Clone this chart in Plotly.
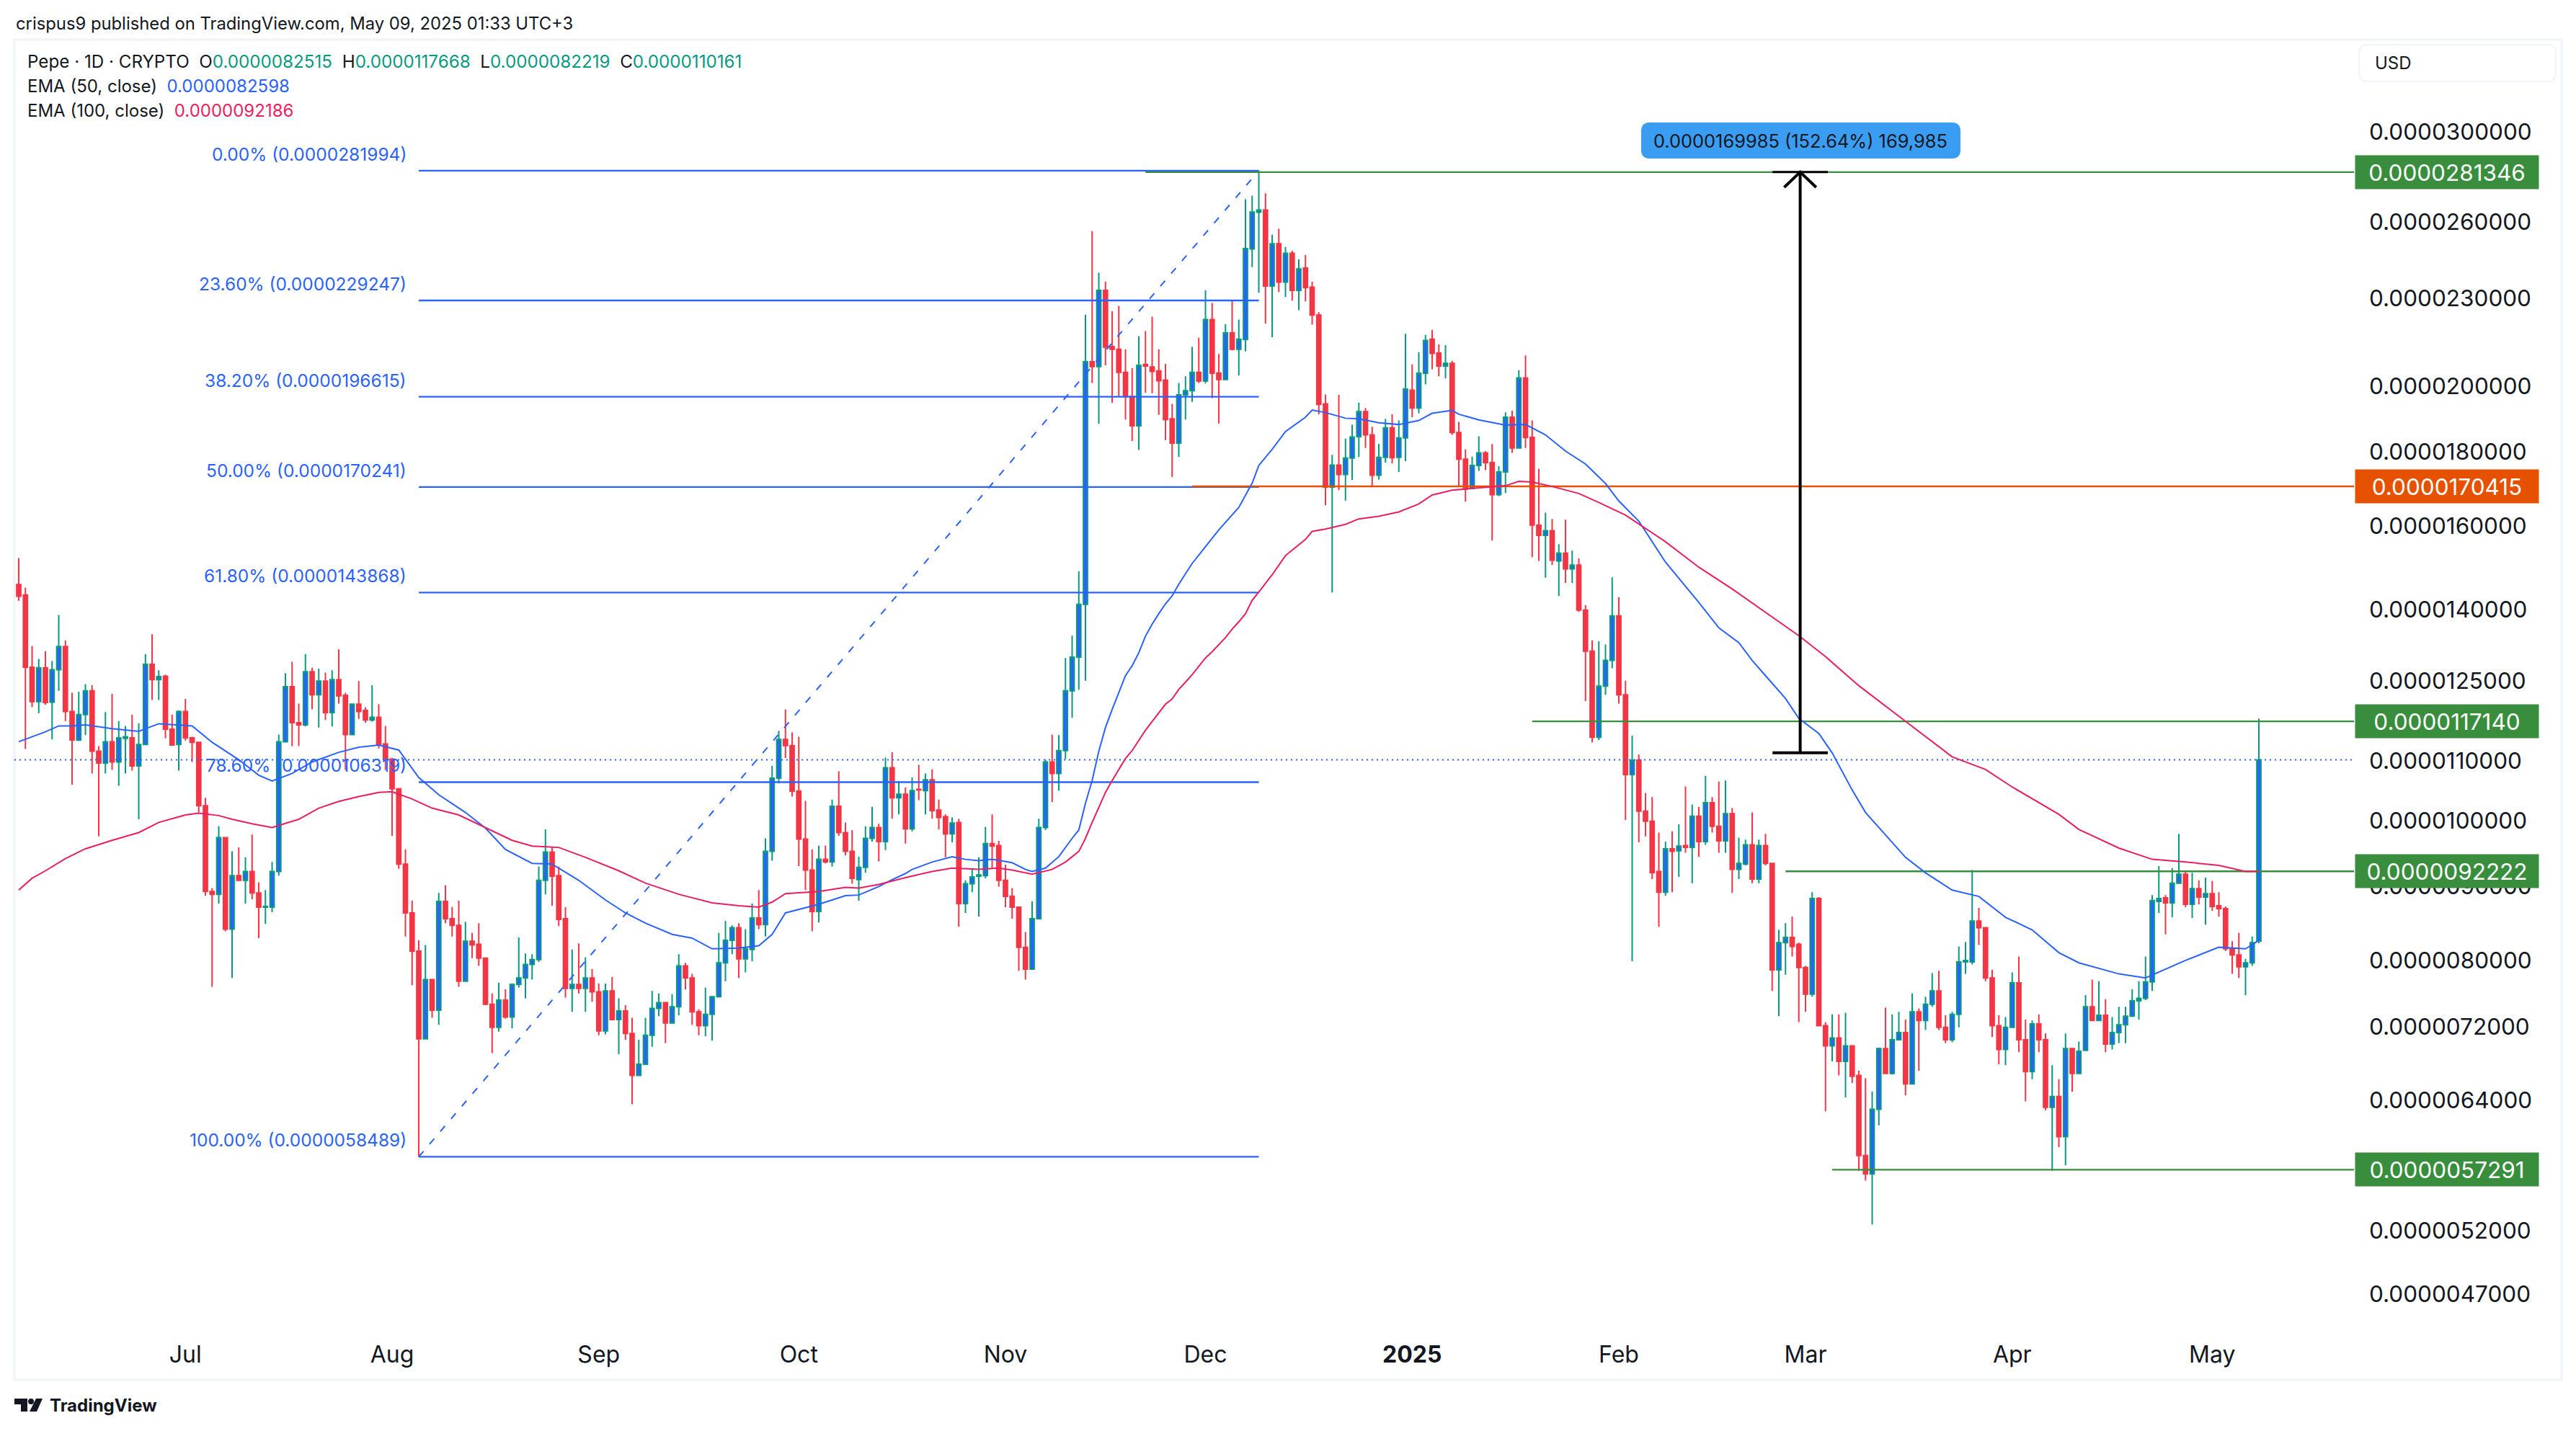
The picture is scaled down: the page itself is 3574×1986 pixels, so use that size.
import math
import pandas as pd
import plotly.graph_objects as go

UNIT = 1e-7
FIRST_DAY = "2024-06-06"

open_ = [
145.7,143.3,127.7,120.9,127.6,120.8,127.2,132.0,119.0,113.7,
118.4,123.0,111.7,109.6,113.4,109.8,114.0,114.1,109.1,112.9,
128.3,125.2,125.9,115.7,112.9,119.0,114.1,113.3,102.4,89.3,
88.9,97.3,84.1,91.6,90.9,92.2,89.1,87.1,87.1,92.2,
113.4,123.8,116.9,116.5,126.8,122.2,124.9,118.8,125.2,122.1,
114.7,120.4,119.2,117.4,117.9,113.0,110.3,105.2,93.3,86.3,
81.2,70.6,77.6,73.9,87.9,85.5,84.6,77.4,82.5,82.1,
80.3,74.6,71.9,75.1,73.1,77.0,77.8,79.5,80.1,90.9,
95.1,91.6,85.5,76.5,77.0,76.5,77.8,76.1,71.5,76.2,
72.8,73.8,71.2,66.6,67.8,71.0,74.1,74.8,72.4,74.3,
79.3,77.8,73.7,72.1,73.4,75.5,79.7,82.6,84.3,80.2,
81.4,85.6,84.7,95.2,107.0,113.8,112.7,104.8,97.1,92.4,
86.5,94.0,93.6,102.3,98.1,95.2,91.0,92.8,97.2,98.9,
96.7,108.8,103.7,104.3,98.7,105.1,104.9,106.7,101.7,100.6,
97.9,99.7,87.6,90.4,91.5,91.6,96.4,96.1,90.9,88.6,
87.1,81.7,78.9,85.5,98.9,109.8,107.8,111.8,123.0,129.8,
141.2,207.9,206.3,233.0,213.0,212.1,204.4,196.7,187.7,207.0,
206.2,204.9,201.9,189.8,182.6,197.2,198.5,204.4,201.6,222.4,
204.2,202.1,217.7,212.1,215.4,248.9,263.9,264.8,234.6,251.0,
236.1,247.2,233.0,241.4,234.2,224.0,194.4,170.2,176.3,173.7,
178.3,184.5,192.0,185.0,173.5,178.5,187.1,178.5,184.1,198.7,
193.1,204.1,215.5,210.8,206.5,207.4,185.7,178.0,169.9,176.2,
179.8,177.0,168.2,174.4,190.3,181.2,202.6,184.3,160.2,157.6,
158.8,151.3,153.2,149.4,150.3,139.9,131.0,114.2,123.9,129.1,
138.6,122.2,107.6,110.1,101.5,99.9,92.2,89.2,95.6,95.3,
96.1,95.8,100.7,96.7,102.9,99.1,96.8,101.1,92.5,93.3,
96.2,91.1,96.1,93.4,78.8,82.3,83.0,82.1,79.1,75.8,
88.3,72.1,69.8,70.7,68.1,69.8,66.6,58.6,56.9,63.1,
69.5,66.8,70.5,71.3,65.7,73.7,72.7,74.6,76.2,71.9,
70.5,73.4,79.8,79.8,85.2,84.3,77.8,72.1,69.4,71.9,
77.2,70.5,67.0,72.3,70.5,63.3,64.4,60.4,69.5,66.8,
69.3,74.3,72.7,73.3,70.0,71.3,72.2,73.2,75.0,75.3,
77.3,87.9,88.4,87.7,90.5,91.8,87.5,89.7,88.5,89.0,
87.3,86.9,81.5,80.7,79.2,79.7,82.515]

high = [
152.0,145.0,132.1,129.4,131.0,129.0,138.8,133.3,122.6,122.8,
124.3,124.1,112.6,118.9,122.4,117.2,116.3,118.4,116.8,130.4,
134.6,127.1,126.2,118.4,119.2,121.4,114.3,113.3,103.7,89.8,
99.1,97.4,95.2,95.8,94.3,97.8,90.6,89.5,93.6,114.7,
126.5,128.8,120.5,130.4,127.6,127.4,126.6,127.1,131.4,122.6,
120.5,124.9,119.8,124.1,120.4,116.3,110.5,105.3,95.5,88.0,
82.6,82.0,77.6,89.1,90.2,87.1,88.0,85.1,83.6,84.9,
80.3,75.9,77.2,76.4,77.1,83.0,80.9,80.8,92.9,98.6,
95.8,92.9,87.1,81.4,82.2,80.4,78.9,77.1,77.1,77.9,
75.3,74.5,73.0,70.5,73.0,76.2,75.9,74.8,75.8,80.8,
79.7,78.3,74.0,76.6,75.6,83.6,85.2,84.6,84.9,84.1,
87.6,89.5,97.2,109.1,115.4,119.4,115.1,114.3,103.2,95.5,
96.1,96.1,103.4,108.2,99.7,98.5,94.4,99.1,102.2,99.5,
110.6,111.5,106.5,105.4,107.1,109.3,107.8,108.5,103.4,101.0,
100.5,100.3,90.9,92.7,94.3,99.0,101.0,96.8,93.2,89.8,
87.2,83.7,87.9,100.3,110.2,114.7,114.6,129.6,134.3,148.8,
224.1,256.1,239.6,236.2,225.3,227.3,212.0,205.8,216.6,218.3,
223.4,212.1,207.2,194.4,201.0,203.1,212.9,216.0,233.0,228.3,
210.5,220.7,229.1,222.4,269.4,271.0,282.0,272.0,254.6,257.0,
249.7,248.2,244.8,246.5,236.2,225.0,197.3,179.2,197.2,183.9,
188.0,194.7,193.1,187.4,182.4,189.8,191.2,189.3,217.4,207.0,
211.1,217.0,218.7,213.7,213.5,208.2,188.9,180.8,178.7,184.6,
180.3,182.3,176.0,191.8,192.3,205.1,210.0,189.3,175.3,163.4,
161.8,155.4,161.6,153.8,151.9,141.0,133.3,133.1,132.4,147.4,
142.8,125.0,114.5,111.1,104.5,103.8,98.1,96.7,98.3,99.4,
105.6,102.6,102.2,107.4,103.8,106.4,106.6,102.0,97.3,97.0,
101.3,97.0,97.9,93.5,84.0,84.9,85.8,82.3,79.3,89.2,
88.5,72.5,73.4,73.4,73.6,69.8,67.1,66.3,64.9,69.6,
74.2,73.4,73.7,72.8,75.9,74.1,75.5,78.4,78.7,73.3,
73.7,81.8,82.4,92.4,87.0,84.3,78.8,73.3,73.1,78.5,
80.5,72.8,72.7,73.4,71.2,67.7,66.2,71.2,69.5,70.3,
75.7,77.6,77.4,75.2,73.1,74.3,74.3,76.4,77.4,80.5,
88.8,93.0,88.8,92.7,97.9,92.2,92.0,90.9,91.3,90.8,
89.2,87.2,82.5,83.6,80.2,83.1,117.668]

low = [
142.0,112.1,119.9,118.7,120.3,113.8,123.0,117.2,105.9,113.5,
114.6,107.8,97.5,107.8,108.4,105.7,107.8,108.3,100.2,112.9,
121.2,121.2,114.0,112.7,108.3,113.6,109.8,101.3,88.7,76.7,
87.6,83.8,77.8,90.9,87.6,88.2,82.9,84.8,86.4,91.6,
113.3,112.6,112.6,116.2,119.4,116.0,117.4,116.2,120.5,108.4,
114.7,117.6,116.9,117.1,112.2,108.4,97.6,92.6,83.1,76.9,
58.489,70.6,73.0,72.2,84.9,83.1,76.7,77.3,80.3,79.3,
74.5,69.0,71.4,72.9,71.8,76.6,75.3,77.6,79.8,88.9,
87.3,84.5,75.4,73.7,75.9,73.7,74.9,71.0,71.1,72.7,
68.9,70.5,63.6,66.6,67.7,69.7,73.2,70.1,72.4,73.3,
76.4,72.2,71.0,70.9,70.4,75.4,77.4,80.8,77.8,78.5,
79.9,84.1,83.1,93.8,106.1,110.5,103.9,93.0,89.5,83.8,
85.0,93.4,92.9,97.6,94.6,90.4,88.0,92.0,96.7,93.7,
95.4,100.3,101.0,96.4,98.3,103.3,101.0,100.3,98.6,94.3,
96.6,84.4,86.3,89.2,85.8,91.2,92.6,90.0,87.1,85.5,
78.7,77.6,78.9,85.5,98.5,103.0,104.9,110.3,117.8,123.2,
125.0,201.0,188.3,206.7,194.7,196.7,189.6,183.2,180.6,197.9,
197.7,191.0,183.5,173.0,178.6,189.6,195.0,201.0,200.8,196.2,
188.4,202.1,211.7,203.4,211.4,241.8,232.1,221.0,216.2,232.4,
230.6,229.2,225.7,228.9,220.6,191.2,165.4,143.9,169.4,166.6,
172.2,178.6,181.2,170.5,172.3,177.0,176.8,174.4,177.4,190.3,
191.5,200.5,205.4,203.1,202.5,185.0,170.5,166.3,169.7,174.7,
174.9,156.3,167.8,168.6,179.8,181.2,181.2,152.2,151.3,147.3,
150.3,143.1,146.1,146.1,139.5,121.0,113.3,113.7,122.2,127.5,
120.5,100.1,79.9,96.6,97.5,91.1,84.4,88.7,89.2,91.4,
95.0,90.5,94.4,96.2,98.1,95.0,95.0,89.1,91.1,93.1,
90.5,90.5,93.1,76.2,73.2,78.2,80.5,72.5,73.7,75.5,
72.1,62.9,68.1,66.6,64.3,65.8,57.2,56.3,52.5,61.5,
66.8,66.7,70.5,64.5,65.7,67.1,71.6,74.3,71.6,70.1,
70.2,71.9,78.3,79.5,82.0,77.4,70.8,67.8,67.7,71.9,
69.1,63.9,66.2,69.1,63.0,57.2,59.4,57.7,64.9,66.8,
69.3,72.6,72.6,69.1,69.4,70.1,70.1,73.1,72.8,75.1,
76.2,86.3,83.4,85.7,90.5,87.1,85.6,87.5,84.7,86.6,
85.8,81.2,78.3,77.8,75.7,79.3,82.219]

close = [
143.0,127.7,120.9,127.6,120.7,127.2,132.0,119.0,113.7,118.4,
123.0,111.7,109.6,113.4,109.8,114.1,114.3,109.1,112.9,128.3,
125.2,125.8,115.7,112.8,119.0,114.1,113.3,102.4,89.3,88.9,
97.3,84.1,91.6,90.9,92.2,89.1,87.1,87.2,92.2,113.4,
123.8,116.9,116.5,126.8,122.2,124.9,118.8,125.2,122.0,114.7,
120.4,119.0,117.4,117.9,112.9,110.3,105.2,93.3,86.3,81.2,
70.6,77.6,73.9,87.9,85.5,84.6,77.4,82.5,82.0,80.3,
74.6,71.9,75.1,73.1,77.0,77.8,79.5,80.1,90.9,95.1,
91.5,85.4,76.5,77.0,76.5,77.8,76.1,71.5,76.2,72.8,
73.8,71.2,66.6,67.8,71.0,74.1,74.8,72.4,74.3,79.3,
77.8,73.7,72.1,73.4,75.5,79.7,82.6,84.3,80.2,81.5,
85.6,84.7,95.2,107.0,113.8,112.7,104.8,97.1,92.4,86.5,
94.0,93.6,102.3,98.1,95.2,91.2,92.8,97.2,98.9,96.7,
108.8,103.7,104.3,98.7,104.9,105.0,106.7,101.6,100.5,97.9,
99.6,87.6,90.4,91.4,91.7,96.4,96.0,90.9,88.6,87.1,
81.7,78.9,85.5,98.9,109.8,107.8,111.8,123.0,129.8,141.2,
207.9,206.3,233.0,212.8,212.1,204.4,196.7,187.7,206.7,206.5,
204.7,201.7,189.6,182.6,197.2,198.5,204.4,201.6,222.4,204.1,
202.1,217.7,212.1,215.5,249.0,264.0,264.8,234.6,251.0,236.1,
247.2,233.0,241.1,234.0,224.0,194.2,170.2,176.3,173.7,178.3,
184.4,192.0,185.0,173.5,178.5,187.1,178.4,184.1,199.0,193.1,
204.1,215.1,210.7,206.5,207.4,185.7,178.0,169.7,176.2,179.8,
177.0,168.2,174.4,190.3,181.2,202.6,184.2,160.2,157.6,158.8,
151.5,153.2,149.4,150.3,139.9,131.0,114.2,123.9,129.1,138.6,
122.2,107.6,110.1,101.5,99.9,92.0,89.2,95.6,95.2,96.0,
95.8,100.7,96.7,102.9,99.1,96.8,101.1,92.5,93.4,96.2,
91.1,96.1,93.4,78.8,82.3,83.0,81.8,79.1,75.8,88.3,
72.1,69.8,70.7,68.1,69.8,66.5,58.6,56.9,63.1,69.5,
66.8,70.5,71.3,65.7,73.7,72.7,74.6,76.2,71.9,70.5,
73.4,79.8,80.0,85.2,84.3,77.8,72.1,69.4,71.9,77.2,
70.5,67.0,72.3,70.5,63.3,64.4,60.4,69.5,66.8,69.2,
74.3,72.7,73.3,70.0,71.3,72.2,73.2,75.0,75.3,77.3,
88.0,88.3,87.7,90.5,91.8,87.5,89.7,88.5,89.0,87.2,
86.9,81.5,80.7,79.2,79.7,82.3,110.161]

ema50_day = [0,2,4,6,8,10,14,18,21,26,29,33,36,38,41,44,48,51,54,57,60,63,67,70,73,77,80,84,88,91,94,98,101,104,108,111,113,115,120,124,
126,129,131,133,134,137,140,142,144,146,149,151,152,154,156,158,159,160,161,162,163,164,165,166,167,168,169,170,171,172,173,
174,176,178,180,183,185,186,188,190,193,194,196,199,201,204,207,210,212,215,216,219,223,226,229,232,235,
238,240,243,247,252,255,258,260,262,265,267,270,272,275,277,280,283,286,290,294,298,302,306,309,315,319,325,330,334,336]
ema50 = [113.4,114.3,115.2,116.3,116.3,116.5,115.8,115.3,116.7,116.3,113.3,110.2,107.5,106.5,107.8,109.8,111.5,112.4,112.8,111.9,107.1,104.2,101.3,98.8,95.5,93.4,93.3,90.9,88.1,86.3,84.9,83.4,82.9,81.5,81.6,81.9,83.4,86.3,87.5,88.7,
88.8,90.0,91.0,91.9,92.5,93.6,94.4,94.0,93.8,94.0,93.5,92.5,92.2,92.7,94.4,97.2,98.5,102.8,106.6,111.7,116.0,119.4,122.7,126.0,128.0,130.7,134.2,136.8,139.1,141.3,143.1,
145.8,150.7,154.8,159.0,164.8,171.3,176.2,180.8,186.0,190.3,192.5,191.7,190.0,189.8,188.6,188.1,189.3,191.5,192.4,191.2,189.5,187.9,188.1,185.0,180.3,176.6,
171.2,166.5,161.2,151.0,141.6,136.0,132.8,129.1,126.0,121.5,117.7,114.9,111.4,105.0,101.3,97.8,94.3,92.0,89.5,88.6,85.7,84.0,81.0,79.7,78.3,77.8,80.0,81.7,81.5,82.598]

ema100_day = [0,2,4,7,10,14,18,21,25,27,30,32,35,38,42,45,48,51,54,56,59,62,66,70,74,77,81,85,90,94,99,104,108,111,113,115,120,124,
126,129,133,137,140,144,147,149,152,155,157,159,
160,161,162,163,164,165,166,167,168,169,170,171,172,173,174,175,176,177,178,179,180,181,182,183,184,185,186,
188,190,193,194,196,199,201,204,207,210,212,215,217,221,223,225,227,230,234,
237,241,247,252,257,262,267,271,276,282,290,295,299,306,309,315,320,325,330,334,336]
ema100 = [89.5,91.2,92.3,94.1,95.6,96.9,98.1,99.7,100.9,101.2,100.8,100.2,99.5,98.9,100.2,102.0,103.1,103.9,104.6,104.7,103.5,102.0,100.9,98.9,96.9,96.0,95.8,94.3,92.3,90.5,88.9,87.7,87.3,87.1,87.8,89.0,89.3,89.9,
89.8,90.3,91.3,92.2,92.7,92.5,92.7,92.4,91.8,92.5,93.6,95.2,
97.2,99.7,102.2,104.6,106.6,108.5,110.4,111.8,113.6,115.5,117.1,118.7,120.4,121.4,123.3,124.7,126.2,127.9,129.6,130.9,132.4,133.9,135.7,137.3,139.1,142.1,144.0,
148.0,152.6,156.6,158.6,159.2,160.4,161.8,162.5,163.6,165.7,168.1,169.4,169.7,170.2,170.6,171.8,171.6,170.4,168.5,
166.1,162.8,156.0,149.8,144.7,139.4,134.3,129.9,124.0,118.1,110.7,108.5,105.5,101.0,98.6,95.7,94.0,93.6,93.1,92.2,92.186]

fib_levels = [281.994,229.247,196.615,170.241,143.868,106.319,58.489]
fib_labels = ["0.00% (0.0000281994)","23.60% (0.0000229247)","38.20% (0.0000196615)","50.00% (0.0000170241)",
              "61.80% (0.0000143868)","78.60% (0.0000106319)","100.00% (0.0000058489)"]
fib_start_day, fib_end_day = 60, 186

level_prices = [281.346,170.415,117.140,92.222,57.291]
level_labels = ["0.0000281346","0.0000170415","0.0000117140","0.0000092222","0.0000057291"]
level_start_day = [169,176,227,265,272]
level_colors = ["#388e3c","#e65100","#388e3c","#388e3c","#388e3c"]

last_price = 110.161
arrow_day, arrow_half_bar, arrow_head_days = 267.2, 4.15, 2.4
arrow_low, arrow_high, arrow_head_price = 111.4, 281.346, 274.6

price_ticks = [300000,260000,230000,200000,180000,160000,140000,125000,110000,100000,90000,80000,72000,64000,52000,47000]
month_ticks = ["2024-07-01","2024-08-01","2024-09-01","2024-10-01","2024-11-01","2024-12-01","2025-01-01","2025-02-01","2025-03-01","2025-04-01","2025-05-01"]
month_labels = ["Jul","Aug","Sep","Oct","Nov","Dec","<b>2025</b>","Feb","Mar","Apr","May"]

# canvas / plot geometry
W, H = 3574, 1986
L, R, T, B = 20, 3266, 55, 1850
FONT = "Inter"
INK = "#131722"
BLUE = "#2962ff"
RED = "#f23645"
GREEN = "#089981"
PINK = "#e91e63"

def px(x): return (x - L) / (R - L)
def py(y): return 1 - (y - T) / (B - T)
def day(d): return pd.Timestamp(FIRST_DAY) + pd.Timedelta(days=d)
def P(v): return v * UNIT
def ys(vs): return [v * UNIT for v in vs]

dates = [day(i) for i in range(len(open_))]
fig = go.Figure()

def line(xs, yvals, color, width=2, dash="solid"):
    fig.add_trace(go.Scatter(x=xs, y=yvals, mode="lines", hoverinfo="skip", showlegend=False,
                             line=dict(color=color, width=width, dash=dash)))

for lv in fib_levels:
    line([day(fib_start_day), day(fib_end_day)], [P(lv), P(lv)], BLUE, 2.4)
line([day(fib_start_day), day(fib_end_day)], [P(fib_levels[-1]), P(fib_levels[0])], BLUE, 2, "10px,13px")

x_right = day(350.27)
x_left = day(-0.65)
for lv, s, c in zip(level_prices, level_start_day, level_colors):
    line([day(s), x_right], [P(lv), P(lv)], c, 2.4)
line([x_left, x_right], [P(last_price), P(last_price)], BLUE, 2, "2px,5px")

line([day(i) for i in ema50_day], ys(ema50), BLUE, 2)
line([day(i) for i in ema100_day], ys(ema100), PINK, 2)

fig.add_trace(go.Candlestick(
    x=dates, open=ys(open_), high=ys(high), low=ys(low), close=ys(close), whiskerwidth=0,
    increasing=dict(fillcolor=BLUE, line=dict(color=GREEN, width=2)),
    decreasing=dict(fillcolor=RED, line=dict(color=RED, width=2)),
    showlegend=False, hoverinfo="skip"))

# measurement arrow
line([day(arrow_day), day(arrow_day)], [P(arrow_low), P(arrow_high)], "#000000", 4)
line([day(arrow_day - arrow_half_bar), day(arrow_day + arrow_half_bar)], [P(arrow_low)] * 2, "#000000", 4)
line([day(arrow_day - arrow_half_bar), day(arrow_day + arrow_half_bar)], [P(arrow_high)] * 2, "#000000", 3)
line([day(arrow_day - arrow_head_days), day(arrow_day), day(arrow_day + arrow_head_days)],
     [P(arrow_head_price), P(arrow_high), P(arrow_head_price)], "#000000", 4)

ann = []
def text(x, y, s, size=24, color=INK, anchor="left", **kw):
    ann.append(dict(x=px(x), y=py(y), xref="paper", yref="paper", text=s, showarrow=False, xanchor=anchor,
                    yanchor="middle", font=dict(family=FONT, size=size, color=color), **kw))

text(20, 32, "crispus9 published on TradingView.com, May 09, 2025 01:33 UTC+3", 23.8)
g = lambda s: f'<span style="color:{GREEN}">{s}</span>'
text(36, 86, f"Pepe · 1D · CRYPTO  O{g('0.0000082515')}  H{g('0.0000117668')}  L{g('0.0000082219')}  C{g('0.0000110161')}", 24.2)
text(36, 119, f'EMA (50, close)  <span style="color:{BLUE}">0.0000082598</span>', 24)
text(36, 153, f'EMA (100, close)  <span style="color:{PINK}">0.0000092186</span>', 24)
text(3293, 87, "USD", 24)
text(2498, 195, "0.0000169985 (152.64%) 169,985", 25.4, INK, "center")
text(67, 1950, "<b>TradingView</b>", 24)

for lv, lab in zip(fib_levels, fib_labels):
    ann.append(dict(x=day(fib_start_day), y=math.log10(P(lv)), xref="x", yref="y", text=lab, showarrow=False,
                    xanchor="right", yanchor="middle", xshift=-15, yshift=23,
                    font=dict(family=FONT, size=24.5, color=BLUE)))

for lv, lab, c in zip(level_prices, level_labels, level_colors):
    ann.append(dict(x=1, y=math.log10(P(lv)), xref="paper", yref="y", text=lab, showarrow=False,
                    xanchor="left", yanchor="middle", xshift=1, width=252, height=44, align="center",
                    bgcolor=c, font=dict(family=FONT, size=31.5, color="#ffffff")))

def rounded(x0, y0, x1, y1, r):
    a, b, c, d = px(x0), py(y0), px(x1), py(y1)
    rx, ry = r / (R - L), r / (B - T)
    return (f"M {a+rx} {b} L {c-rx} {b} Q {c} {b} {c} {b-ry} L {c} {d+ry} Q {c} {d} {c-rx} {d} "
            f"L {a+rx} {d} Q {a} {d} {a} {d+ry} L {a} {b-ry} Q {a} {b} {a+rx} {b} Z")

shapes = [
    dict(type="rect", xref="paper", yref="paper", x0=px(20), x1=px(3554), y0=py(55), y1=py(1915),
         line=dict(color="#f0f3fa", width=3), layer="below"),
    dict(type="path", xref="paper", yref="paper", path=rounded(3273, 62, 3546, 113, 12),
         line=dict(color="#f0f3fa", width=2), layer="below"),
    dict(type="path", xref="paper", yref="paper", path=rounded(2277, 170, 2720, 220, 12),
         fillcolor="#3a9df2", line=dict(width=0), layer="below"),
    # TradingView mark
    dict(type="path", xref="paper", yref="paper", line=dict(width=0), fillcolor=INK,
         path=(f"M {px(20)} {py(1941)} L {px(38)} {py(1941)} L {px(38)} {py(1959)} L {px(29)} {py(1959)} "
               f"L {px(29)} {py(1949)} L {px(20)} {py(1949)} Z")),
    dict(type="circle", xref="paper", yref="paper", line=dict(width=0), fillcolor=INK,
         x0=px(39), x1=px(47), y0=py(1941), y1=py(1949)),
    dict(type="path", xref="paper", yref="paper", line=dict(width=0), fillcolor=INK,
         path=f"M {px(50)} {py(1941)} L {px(59)} {py(1941)} L {px(51)} {py(1959)} L {px(41)} {py(1959)} Z"),
]

y_top = 30e-6 * math.exp((183 - T) / 870)
y_bot = 30e-6 * math.exp((183 - B) / 870)

fig.update_layout(
    width=W, height=H, autosize=False,
    margin=dict(l=L, r=W - R, t=T, b=H - B, pad=0),
    paper_bgcolor="#ffffff", plot_bgcolor="#ffffff",
    font=dict(family=FONT, size=32, color=INK),
    showlegend=False, annotations=ann, shapes=shapes, boxgap=0.12,
    xaxis=dict(type="date", range=[x_left, x_right], rangeslider=dict(visible=False), showgrid=False, zeroline=False,
               showline=False, tickmode="array", tickvals=month_ticks, ticktext=month_labels, ticks="outside",
               ticklen=2, tickcolor="#ffffff", tickfont=dict(family=FONT, size=32, color=INK)),
    yaxis=dict(type="log", side="right", range=[math.log10(y_bot), math.log10(y_top)], showgrid=False, zeroline=False,
               showline=False, tickmode="array", tickvals=[t * 1e-10 for t in price_ticks],
               ticktext=[f"{t * 1e-10:.10f}" for t in price_ticks], ticks="", ticklen=0, ticklabelstandoff=20,
               tickcolor="#ffffff", tickfont=dict(family=FONT, size=31.5, color=INK)),
)
fig.write_html("out.html", config=dict(displayModeBar=False),
               post_script="document.body.style.margin='0';document.documentElement.style.margin='0';")
